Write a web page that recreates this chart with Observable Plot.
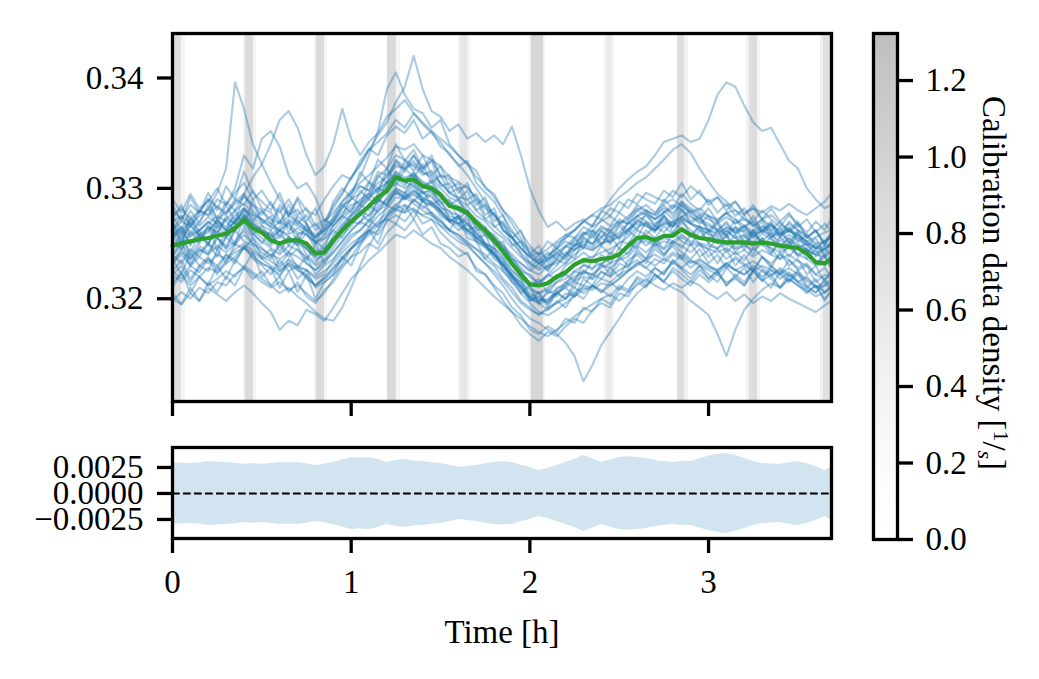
<!DOCTYPE html>
<html><head><meta charset="utf-8">
<script src="https://cdn.jsdelivr.net/npm/d3@7"></script>
<script src="https://cdn.jsdelivr.net/npm/@observablehq/plot@0.6"></script>
<style>
html,body{margin:0;padding:0;background:#fff;}
#chart{position:relative;width:1039px;height:679px;overflow:hidden;background:#fff;}
#chart svg{position:absolute;left:0;top:0;}
</style></head><body><div id="chart"></div>
<script>
// ---------- data ----------
// time grid [h]
const times = [0,0.05,0.1,0.15,0.2,0.25,0.3,0.35,0.4,0.45,0.5,0.55,0.6,0.65,0.7,0.75,0.8,0.85,0.9,0.95,1,1.05,1.1,1.15,1.2,1.25,1.3,1.35,1.4,1.45,1.5,1.55,1.6,1.65,1.7,1.75,1.8,1.85,1.9,1.95,2,2.05,2.1,2.15,2.2,2.25,2.3,2.35,2.4,2.45,2.5,2.55,2.6,2.65,2.7,2.75,2.8,2.85,2.9,2.95,3,3.05,3.1,3.15,3.2,3.25,3.3,3.35,3.4,3.45,3.5,3.55,3.6,3.65,3.685];
// green mean line, in units of 1e-4
const meanValues = [3248,3250,3252,3254,3255,3257,3259,3264,3272,3264,3260,3253,3250,3253,3253,3250,3241,3242,3253,3262,3270,3277,3284,3292,3298,3310,3307,3308,3302,3300,3294,3284,3282,3278,3269,3262,3253,3243,3232,3222,3213,3212,3214,3220,3224,3231,3235,3234,3236,3237,3240,3248,3255,3256,3253,3257,3257,3263,3258,3255,3254,3252,3251,3251,3251,3250,3251,3250,3248,3247,3246,3241,3233,3232,3236];
// ensemble members (blue), in units of 1e-4
const memberValues = [
[3262,3270,3266,3275,3281,3296,3318,3396,3372,3340,3322, 3305,3290,3276,3281,3268,3255,3262,3270,3282,3290, 3295,3306,3300,3312,3322,3318,3325,3314,3310,3300, 3292,3288,3280,3271,3262,3258,3248,3240,3232,3226, 3222,3229,3235,3232,3244,3250,3246,3255,3251,3258, 3263,3270,3268,3262,3270,3266,3275,3268,3262,3259, 3256,3262,3255,3258,3251,3259,3254,3248,3255,3250, 3244,3240,3246,3248],
[3270,3275,3268,3280,3276,3290,3285,3300,3330,3318,3345, 3352,3338,3312,3300,3305,3292,3270,3278,3288,3296, 3302,3298,3310,3318,3330,3326,3320,3312,3316,3305, 3296,3290,3284,3275,3270,3261,3255,3246,3238,3232, 3228,3236,3240,3247,3252,3258,3262,3256,3265,3270, 3268,3275,3280,3272,3278,3285,3280,3274,3270,3266, 3262,3258,3265,3260,3256,3262,3258,3252,3258,3253, 3249,3242,3245,3250],
[3280,3272,3285,3278,3290,3283,3276,3288,3295,3310,3322, 3340,3362,3370,3355,3330,3312,3320,3340,3372,3345, 3330,3342,3350,3365,3372,3380,3368,3358,3350,3342, 3330,3322,3312,3300,3288,3276,3268,3260,3252,3245, 3240,3245,3252,3258,3262,3270,3276,3282,3285,3292, 3298,3305,3310,3318,3326,3335,3340,3332,3318,3306, 3295,3288,3280,3272,3268,3260,3266,3258,3262,3255, 3250,3246,3252,3256],
[3240,3232,3245,3238,3250,3244,3256,3262,3270,3258,3252, 3246,3240,3248,3244,3238,3230,3236,3250,3262,3275, 3282,3292,3300,3296,3312,3306,3302,3296,3292,3284, 3275,3272,3268,3260,3250,3246,3238,3226,3218,3212, 3215,3222,3230,3240,3248,3258,3266,3278,3290,3300, 3308,3315,3320,3330,3342,3345,3348,3342,3345,3362, 3385,3396,3392,3375,3360,3352,3355,3340,3325,3318, 3300,3290,3282,3285],
[3265,3258,3270,3262,3268,3275,3270,3262,3275,3268,3262, 3258,3265,3272,3268,3262,3255,3268,3282,3295,3310, 3322,3335,3348,3360,3378,3392,3420,3390,3370,3365, 3352,3358,3345,3350,3342,3348,3340,3356,3330,3300, 3280,3265,3270,3262,3268,3272,3265,3270,3275,3268, 3272,3280,3285,3278,3286,3290,3284,3278,3282,3275, 3270,3278,3272,3266,3270,3262,3268,3260,3264,3258, 3252,3256,3260,3262],
[3255,3262,3250,3258,3265,3260,3272,3268,3280,3275,3266, 3262,3270,3265,3258,3262,3250,3258,3270,3282,3296, 3310,3330,3352,3390,3405,3385,3372,3368,3355,3362, 3340,3330,3322,3310,3302,3292,3280,3268,3255,3240, 3232,3226,3235,3240,3248,3252,3250,3256,3260,3254, 3262,3270,3275,3268,3272,3266,3274,3280,3272,3268, 3262,3268,3260,3266,3258,3262,3256,3260,3252,3248, 3244,3240,3238,3242],
[3225,3218,3230,3224,3236,3230,3240,3235,3246,3240,3232, 3228,3222,3230,3226,3220,3212,3218,3228,3238,3246, 3255,3262,3270,3278,3285,3280,3290,3284,3278,3272, 3262,3258,3250,3240,3232,3222,3212,3200,3190,3182, 3178,3172,3168,3160,3148,3125,3140,3158,3170,3182, 3195,3205,3212,3218,3225,3232,3228,3235,3230,3226, 3222,3230,3226,3222,3228,3220,3226,3218,3224,3216, 3210,3206,3212,3215],
[3235,3242,3236,3245,3240,3248,3242,3250,3258,3250,3245, 3240,3236,3242,3238,3232,3226,3232,3242,3252,3262, 3270,3276,3284,3290,3298,3292,3296,3288,3284,3278, 3270,3266,3260,3252,3246,3240,3230,3222,3212,3205, 3200,3198,3205,3210,3216,3220,3218,3224,3220,3226, 3230,3235,3228,3222,3215,3210,3206,3198,3192,3185, 3168,3148,3172,3190,3200,3208,3214,3210,3218,3212, 3208,3202,3206,3210],
[3200,3195,3205,3198,3210,3204,3198,3206,3212,3205,3196, 3188,3172,3180,3176,3190,3186,3180,3192,3205,3218, 3226,3235,3242,3250,3258,3255,3262,3256,3250,3246, 3238,3232,3226,3218,3210,3202,3195,3188,3182,3175, 3170,3166,3172,3178,3184,3190,3195,3200,3204,3198, 3206,3212,3218,3212,3208,3214,3210,3216,3212,3205, 3200,3206,3198,3204,3196,3202,3198,3205,3200,3196, 3192,3188,3194,3198],
[3222,3215,3226,3220,3212,3218,3225,3220,3230,3224,3218, 3212,3205,3210,3202,3196,3188,3182,3180,3192,3210, 3230,3248,3262,3275,3285,3292,3286,3280,3275,3270, 3262,3258,3252,3245,3240,3232,3225,3215,3205,3196, 3188,3185,3190,3196,3202,3208,3212,3206,3212,3218, 3225,3230,3236,3240,3235,3242,3238,3232,3236,3230, 3226,3232,3236,3230,3234,3228,3222,3226,3220,3224, 3218,3212,3206,3210],
[3258,3265,3256,3262,3270,3264,3272,3280,3286,3278,3270, 3265,3262,3268,3260,3258,3252,3255,3266,3275,3282, 3290,3296,3305,3310,3320,3318,3322,3315,3312,3305, 3296,3292,3290,3280,3272,3266,3258,3250,3242,3232, 3226,3230,3232,3238,3245,3248,3244,3250,3252,3256, 3262,3268,3266,3262,3268,3270,3274,3268,3265,3262, 3258,3265,3260,3262,3258,3265,3260,3256,3262,3258, 3252,3245,3248,3250],
[3275,3282,3272,3280,3275,3284,3278,3286,3292,3285,3280, 3272,3268,3275,3270,3264,3258,3262,3270,3278,3285, 3288,3295,3300,3305,3315,3310,3312,3305,3300,3295, 3285,3280,3276,3265,3258,3250,3240,3230,3220,3210, 3205,3208,3215,3218,3225,3230,3228,3232,3236,3240, 3246,3252,3254,3250,3255,3252,3258,3252,3250,3248, 3246,3250,3245,3248,3244,3250,3246,3242,3246,3240, 3236,3230,3232,3236],
[3215,3222,3212,3220,3228,3224,3232,3238,3248,3242,3236, 3230,3225,3232,3228,3226,3218,3222,3235,3245,3255, 3262,3270,3280,3285,3296,3292,3298,3290,3288,3280, 3272,3268,3262,3255,3248,3240,3232,3222,3215,3208, 3205,3210,3218,3222,3230,3236,3238,3242,3245,3250, 3256,3265,3268,3262,3268,3265,3272,3268,3265,3262, 3260,3264,3262,3266,3260,3266,3262,3258,3262,3256, 3252,3246,3245,3250],
[3262,3255,3266,3258,3262,3270,3265,3275,3282,3276,3272, 3268,3262,3270,3266,3262,3256,3262,3275,3288,3298, 3305,3312,3320,3328,3338,3335,3340,3330,3326,3320, 3310,3306,3300,3292,3285,3276,3266,3256,3246,3238, 3232,3235,3242,3248,3255,3260,3258,3264,3262,3268, 3275,3282,3280,3276,3282,3278,3286,3280,3276,3272, 3268,3274,3268,3272,3266,3272,3266,3262,3268,3262, 3258,3250,3252,3256],
[3232,3240,3230,3238,3232,3240,3236,3245,3250,3244,3238, 3234,3228,3236,3230,3226,3220,3225,3232,3242,3250, 3256,3262,3268,3272,3280,3278,3282,3275,3272,3266, 3258,3252,3248,3240,3232,3225,3216,3206,3196,3190, 3186,3190,3196,3200,3206,3210,3208,3214,3212,3218, 3225,3232,3235,3230,3236,3232,3240,3234,3232,3228, 3226,3232,3226,3230,3225,3230,3226,3222,3228,3222, 3216,3210,3212,3218],
[3268,3260,3272,3266,3274,3268,3262,3270,3276,3268,3262, 3256,3262,3258,3264,3258,3250,3254,3262,3272,3280, 3286,3292,3298,3305,3312,3308,3314,3306,3302,3296, 3288,3284,3278,3270,3262,3256,3246,3236,3228,3220, 3215,3220,3226,3232,3240,3246,3244,3250,3254,3260, 3268,3275,3278,3272,3278,3282,3288,3282,3278,3275, 3272,3278,3280,3276,3282,3278,3284,3280,3286,3280, 3276,3282,3288,3295],
[3198,3206,3200,3210,3205,3215,3212,3222,3228,3222,3215, 3210,3215,3208,3212,3205,3198,3205,3218,3232,3245, 3255,3265,3275,3282,3292,3290,3294,3288,3285,3280, 3272,3268,3262,3255,3248,3240,3230,3220,3210,3202, 3198,3200,3206,3212,3218,3224,3222,3228,3232,3236, 3242,3250,3252,3248,3252,3250,3256,3250,3248,3245, 3242,3246,3240,3244,3238,3244,3240,3236,3240,3234, 3230,3222,3218,3224],
[3285,3270,3292,3278,3296,3280,3302,3290,3315,3296,3288, 3280,3296,3275,3290,3270,3282,3262,3288,3300,3292, 3315,3305,3326,3318,3340,3325,3335,3318,3330,3310, 3312,3296,3305,3285,3292,3270,3276,3255,3262,3240, 3248,3232,3246,3238,3255,3246,3262,3250,3258,3245, 3262,3255,3270,3262,3276,3260,3272,3258,3266,3250, 3262,3248,3258,3244,3262,3250,3240,3256,3246,3260, 3242,3250,3238,3245],
[3210,3225,3205,3220,3212,3230,3218,3235,3228,3242,3220, 3228,3210,3225,3206,3222,3200,3215,3222,3238,3230, 3248,3262,3250,3272,3268,3285,3272,3290,3276,3270, 3262,3275,3255,3252,3236,3246,3225,3218,3205,3212, 3195,3208,3202,3215,3210,3226,3218,3232,3222,3238, 3230,3245,3236,3252,3240,3248,3236,3250,3238,3244, 3232,3245,3230,3240,3226,3238,3228,3242,3230,3236, 3222,3230,3215,3226],
[3262,3275,3258,3270,3282,3266,3285,3270,3295,3280,3272, 3265,3282,3260,3275,3268,3250,3266,3272,3285,3278, 3298,3290,3312,3305,3326,3315,3330,3316,3325,3302, 3305,3290,3298,3280,3285,3265,3270,3248,3252,3232, 3240,3228,3242,3235,3250,3246,3258,3248,3262,3255, 3270,3262,3278,3265,3275,3268,3282,3270,3276,3262, 3270,3258,3272,3262,3275,3260,3268,3255,3270,3262, 3255,3262,3248,3258],
[3236,3222,3242,3230,3225,3244,3232,3250,3245,3255,3238, 3245,3230,3242,3228,3238,3222,3230,3236,3248,3258, 3262,3272,3265,3285,3280,3296,3288,3298,3285,3290, 3272,3268,3275,3255,3250,3238,3232,3218,3212,3198, 3205,3192,3206,3200,3215,3212,3222,3218,3228,3220, 3235,3240,3232,3245,3238,3250,3242,3236,3245,3232, 3240,3228,3238,3232,3225,3238,3230,3222,3235,3226, 3230,3215,3222,3218],
[3255,3265,3248,3262,3270,3258,3275,3268,3282,3270,3280, 3268,3285,3275,3292,3280,3276,3290,3302,3312,3308, 3325,3336,3330,3348,3356,3350,3362,3345,3352,3338, 3332,3320,3325,3305,3296,3288,3275,3262,3250,3242, 3235,3242,3236,3248,3244,3256,3250,3262,3255,3268, 3262,3275,3270,3266,3280,3272,3285,3276,3268,3275, 3262,3270,3258,3266,3255,3262,3270,3258,3265,3252, 3258,3246,3252,3260],
[3240,3252,3236,3248,3242,3256,3245,3262,3252,3248,3236, 3240,3225,3232,3218,3226,3210,3215,3222,3230,3238, 3242,3250,3245,3260,3268,3262,3272,3258,3265,3250, 3246,3238,3242,3225,3222,3212,3205,3192,3185,3172, 3168,3175,3170,3182,3178,3192,3188,3200,3195,3210, 3206,3220,3215,3228,3222,3235,3226,3218,3230,3222, 3215,3228,3220,3212,3225,3216,3230,3222,3215,3226, 3212,3205,3218,3210],
[3232,3245,3230,3242,3250,3238,3256,3248,3265,3255,3246, 3238,3250,3242,3255,3240,3232,3245,3252,3265,3276, 3285,3295,3288,3306,3302,3318,3310,3322,3305,3312, 3296,3300,3285,3290,3272,3278,3262,3255,3246,3238, 3242,3236,3250,3255,3262,3270,3266,3280,3275,3288, 3282,3295,3290,3286,3298,3292,3305,3290,3298,3285, 3292,3280,3288,3276,3285,3272,3282,3270,3278,3265, 3272,3260,3268,3262],
[3258,3245,3262,3250,3266,3255,3248,3262,3270,3258,3266, 3255,3262,3248,3258,3245,3238,3250,3262,3255,3270, 3268,3285,3278,3292,3300,3295,3305,3290,3298,3282, 3280,3268,3272,3255,3258,3240,3236,3220,3215,3200, 3196,3190,3198,3192,3205,3200,3212,3206,3215,3208, 3218,3225,3220,3228,3222,3235,3228,3222,3230,3218, 3225,3212,3222,3215,3226,3218,3210,3225,3216,3222, 3210,3218,3205,3212],
[3290,3278,3295,3282,3288,3300,3285,3296,3305,3290,3298, 3285,3278,3290,3276,3282,3266,3272,3266,3275,3270, 3280,3275,3290,3285,3298,3292,3302,3288,3295,3278, 3270,3275,3262,3265,3250,3246,3235,3225,3218,3202, 3206,3195,3205,3210,3202,3218,3212,3225,3220,3232, 3228,3242,3236,3248,3240,3252,3246,3258,3250,3245, 3255,3242,3250,3258,3246,3255,3242,3250,3238,3248, 3236,3245,3230,3240],
[3205,3195,3210,3198,3215,3206,3220,3212,3228,3218,3225, 3212,3220,3206,3215,3202,3196,3208,3215,3228,3238, 3250,3258,3262,3275,3282,3278,3290,3282,3288,3275, 3270,3262,3268,3252,3248,3236,3230,3215,3210,3198, 3202,3196,3210,3212,3225,3222,3235,3230,3242,3238, 3250,3246,3262,3255,3266,3258,3270,3262,3255,3262, 3250,3258,3246,3255,3262,3248,3256,3244,3252,3240, 3246,3232,3240,3228],
[3270,3250,3275,3258,3248,3272,3262,3280,3266,3290,3268, 3275,3255,3270,3250,3268,3252,3245,3268,3275,3292, 3285,3305,3296,3318,3305,3325,3316,3330,3312,3320, 3300,3305,3290,3295,3276,3282,3262,3255,3240,3228, 3236,3225,3238,3242,3236,3255,3248,3262,3250,3266, 3258,3272,3266,3260,3275,3265,3280,3268,3274,3260, 3268,3255,3265,3250,3262,3270,3255,3265,3250,3262, 3248,3255,3240,3252],
[3245,3260,3238,3252,3265,3245,3262,3250,3275,3260,3250, 3262,3242,3256,3248,3235,3250,3232,3246,3258,3266, 3278,3270,3290,3285,3300,3296,3310,3295,3300,3286, 3290,3272,3280,3262,3265,3248,3252,3232,3226,3212, 3218,3205,3215,3222,3216,3232,3226,3240,3232,3246, 3240,3256,3248,3255,3245,3260,3252,3248,3262,3250, 3245,3258,3242,3252,3240,3255,3245,3236,3250,3238, 3245,3232,3238,3228],
[3272,3285,3265,3278,3290,3272,3288,3280,3295,3284,3276, 3288,3270,3280,3268,3276,3262,3270,3285,3296,3310, 3320,3335,3342,3350,3362,3355,3368,3360,3352,3345, 3338,3330,3322,3316,3300,3295,3280,3272,3260,3248, 3240,3252,3246,3258,3255,3265,3260,3272,3266,3278, 3272,3285,3280,3276,3290,3282,3295,3286,3280,3290, 3278,3286,3275,3282,3270,3280,3272,3265,3276,3268, 3260,3270,3262,3272],
[3225,3235,3218,3230,3238,3226,3240,3232,3248,3236,3230, 3222,3235,3225,3230,3218,3212,3220,3228,3236,3245, 3252,3262,3258,3270,3276,3270,3280,3268,3272,3260, 3252,3245,3240,3228,3222,3210,3198,3188,3176,3168, 3162,3170,3166,3175,3182,3178,3190,3196,3192,3205, 3202,3215,3210,3222,3215,3228,3222,3215,3226,3218, 3225,3212,3220,3228,3215,3226,3218,3210,3222,3215, 3206,3212,3198,3208],
[3252,3245,3258,3262,3250,3266,3258,3272,3278,3268,3260, 3250,3262,3256,3248,3260,3245,3240,3258,3268,3276, 3285,3280,3296,3302,3315,3305,3312,3300,3308,3295, 3285,3290,3276,3272,3265,3255,3248,3238,3225,3222, 3212,3222,3218,3230,3235,3242,3236,3248,3240,3252, 3250,3262,3258,3266,3260,3270,3262,3256,3265,3258, 3252,3262,3255,3248,3258,3252,3260,3248,3255,3246, 3250,3238,3245,3240],
[3222,3230,3215,3228,3236,3222,3235,3242,3246,3238,3232, 3228,3220,3235,3226,3222,3212,3218,3225,3236,3246, 3252,3260,3266,3275,3282,3285,3280,3276,3278,3266, 3262,3255,3250,3245,3236,3230,3218,3210,3198,3192, 3185,3192,3196,3205,3202,3212,3210,3218,3215,3222, 3226,3232,3228,3236,3232,3240,3236,3228,3235,3230, 3224,3232,3226,3222,3230,3225,3220,3228,3222,3215, 3220,3210,3215,3208],
[3245,3255,3242,3258,3250,3262,3255,3268,3275,3262,3255, 3248,3258,3250,3256,3245,3238,3246,3255,3266,3272, 3282,3290,3286,3302,3310,3302,3315,3300,3306,3292, 3286,3280,3276,3268,3258,3252,3245,3236,3232,3225, 3232,3238,3246,3255,3262,3270,3276,3272,3282,3278, 3290,3286,3296,3292,3288,3298,3292,3302,3295,3288, 3292,3284,3288,3278,3282,3272,3276,3268,3262,3270, 3256,3262,3250,3258],
[3262,3250,3268,3256,3260,3272,3262,3270,3282,3272,3262, 3258,3248,3256,3250,3246,3235,3240,3250,3262,3268, 3275,3285,3288,3296,3305,3300,3306,3296,3298,3288, 3278,3276,3268,3260,3250,3242,3232,3220,3212,3200, 3196,3198,3205,3200,3210,3205,3212,3208,3202,3212, 3208,3218,3212,3222,3216,3225,3218,3212,3222,3215, 3222,3215,3218,3212,3225,3216,3222,3210,3218,3212, 3205,3212,3200,3206],
[3275,3262,3280,3268,3285,3272,3278,3290,3285,3298,3282, 3278,3268,3285,3272,3262,3268,3258,3272,3285,3290, 3302,3298,3315,3312,3325,3320,3330,3318,3326,3312, 3308,3300,3302,3290,3282,3276,3262,3256,3245,3238, 3232,3240,3245,3252,3248,3260,3255,3266,3260,3272, 3268,3280,3276,3272,3285,3275,3288,3278,3272,3282, 3270,3278,3268,3275,3266,3272,3262,3270,3260,3268, 3255,3262,3250,3258],
[3238,3250,3232,3245,3240,3255,3246,3252,3262,3250,3242, 3236,3248,3238,3245,3232,3226,3235,3242,3252,3262, 3270,3265,3282,3288,3296,3290,3298,3292,3286,3280, 3270,3275,3262,3258,3248,3242,3228,3222,3208,3202, 3198,3205,3208,3215,3220,3225,3222,3230,3228,3235, 3238,3248,3242,3250,3245,3252,3248,3242,3250,3238, 3245,3236,3242,3235,3246,3238,3232,3240,3235,3228, 3232,3222,3228,3220]
];
// lower panel: half-width of the shaded band, in units of 1e-5
const bandHalfWidth = [298,291,289,294,308,302,298,291,280,286,280,289,298,294,298,286,269,281,298,322,346,339,346,328,298,317,328,312,308,296,289,272,251,260,269,286,298,304,298,272,251,222,240,270,298,328,366,333,298,322,346,354,346,338,318,307,298,308,308,333,357,374,385,364,337,308,289,283,280,296,308,286,260,222,251];
// calibration data density segments
const calStart   = [0.000,0.050, 0.398,0.408,0.453, 0.795,0.806,0.851, 1.203,1.253, 1.600,1.612,1.651, 1.998,2.009,2.076, 2.417,2.430,2.462, 2.826,2.865, 3.213,3.230,3.274, 3.626,3.643];
const calEnd     = [0.050,0.073, 0.408,0.453,0.470, 0.806,0.851,0.867, 1.253,1.276, 1.612,1.651,1.668, 2.009,2.076,2.087, 2.430,2.462,2.473, 2.865,2.887, 3.230,3.274,3.290, 3.643,3.688];
const calDensity = [0.80,0.40, 0.40,0.85,0.40, 0.38,0.85,0.38, 0.90,0.38, 0.40,0.65,0.40, 0.42,0.95,0.42, 0.38,0.55,0.38, 0.80,0.42, 0.45,0.82,0.38, 0.42,0.75];
// ticks
const xTicks = [0,1,2,3];
const yTicksTop = [0.32,0.33,0.34];
const yTicksBottom = [-0.0025,0,0.0025];
const cbarTicks = [0,0.2,0.4,0.6,0.8,1.0,1.2];
const xLabel = "Time [h]";

// ---------- layout ----------
const W = 1039, H = 679;
const X_DOMAIN = [0, 3.688];
const CMAX = 1.323;
const FONT = "'Liberation Serif','Times New Roman',serif";
const style = {fontFamily: FONT, fontSize: "33px", background: "transparent", overflow: "visible"};
const greyAt = t => d3.interpolateRgb("#ffffff", d3.interpolateGreys(t))(0.25);
const colorScale = {
  type: "linear",
  domain: d3.range(21).map(i => i / 20 * CMAX),
  range: d3.range(21).map(i => greyAt(i / 20)),
  interpolate: "rgb"
};
const LW = 3.3;

const memberRows = memberValues.flatMap((vals, m) => vals.map((v, i) => ({t: times[i], v: v / 1e4, m})));
const meanRows = meanValues.map((v, i) => ({t: times[i], v: v / 1e4}));
const bandRows = bandHalfWidth.map((w, i) => ({t: times[i], w: w / 1e5}));
const cal = calStart.map((s, i) => ({s, e: calEnd[i], d: calDensity[i]}));

const topPlot = Plot.plot({
  width: W, height: H,
  marginTop: 33, marginBottom: H - 401, marginLeft: 172, marginRight: W - 831,
  style,
  x: {domain: X_DOMAIN},
  y: {domain: [0.31069, 0.34403]},
  color: colorScale,
  marks: [
    Plot.rect(cal, {x1: "s", x2: "e", fill: "d"}),
    Plot.line(memberRows, {x: "t", y: "v", z: "m", stroke: "#1f77b4", strokeOpacity: 0.38, strokeWidth: 2.1, clip: true}),
    Plot.line(meanRows, {x: "t", y: "v", stroke: "#2ca02c", strokeWidth: 4.2}),
    Plot.frame({stroke: "black", strokeWidth: LW}),
    Plot.axisY(yTicksTop, {tickSize: 15, tickPadding: 14, strokeWidth: LW, tickFormat: d3.format(".2f"), label: null}),
    Plot.axisX(xTicks, {tickSize: 15, strokeWidth: LW, tickFormat: () => "", label: null})
  ]
});

const bottomPlot = Plot.plot({
  width: W, height: H,
  marginTop: 447, marginBottom: H - 538, marginLeft: 172, marginRight: W - 831,
  style,
  x: {domain: X_DOMAIN},
  y: {domain: [-0.00433, 0.00442]},
  marks: [
    Plot.areaY(bandRows, {x: "t", y1: d => -d.w, y2: d => d.w, fill: "#1f77b4", fillOpacity: 0.2}),
    Plot.ruleY([0], {stroke: "black", strokeWidth: 2, strokeDasharray: "7.7,3.3"}),
    Plot.frame({stroke: "black", strokeWidth: LW}),
    Plot.axisY(yTicksBottom, {tickSize: 15, tickPadding: 14, strokeWidth: LW, tickFormat: d3.format(".4f"), label: null}),
    Plot.axisX(xTicks, {tickSize: 15, tickPadding: 16, strokeWidth: LW, tickFormat: d3.format("d"), label: null}),
    Plot.text([xLabel], {frameAnchor: "bottom", lineAnchor: "bottom", dy: 104, fontSize: 33, text: d => d})
  ]
});

const cbCells = d3.range(265).map(i => ({y1: i * CMAX / 265, y2: (i + 1) * CMAX / 265}));
const cbarPlot = Plot.plot({
  width: W, height: H,
  marginTop: 33, marginBottom: H - 539, marginLeft: 873, marginRight: W - 897,
  style,
  y: {domain: [0, CMAX]},
  color: colorScale,
  marks: [
    Plot.rect(cbCells, {y1: "y1", y2: "y2", fill: d => (d.y1 + d.y2) / 2, shapeRendering: "crispEdges"}),
    Plot.frame({stroke: "black", strokeWidth: LW}),
    Plot.axisY(cbarTicks, {anchor: "right", tickSize: 15, tickPadding: 13, strokeWidth: LW, tickFormat: d3.format(".1f"), label: null})
  ]
});

// colour-bar label with the small 1/s fraction
const lab = d3.select(cbarPlot).append("text")
  .attr("transform", "translate(983,283) rotate(90)")
  .attr("text-anchor", "middle")
  .attr("font-family", FONT)
  .attr("font-size", 33)
  .attr("fill", "black");
lab.append("tspan").text("Calibration data density [");
lab.append("tspan").attr("font-size", 22).attr("dy", -11).text("1");
lab.append("tspan").attr("dy", 11).text("/");
lab.append("tspan").attr("font-size", 22).attr("font-style", "italic").attr("dy", 5).text("s");
lab.append("tspan").attr("dy", -5).text("]");

const chart = document.getElementById("chart");
chart.append(topPlot, bottomPlot, cbarPlot);
</script></body></html>
